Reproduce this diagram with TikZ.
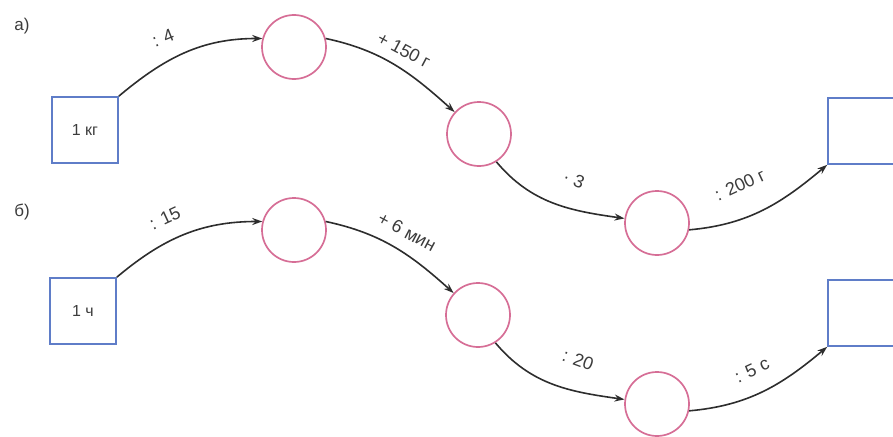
\documentclass[tikz,border=0pt]{standalone}
\usepackage{fontspec}
\setmainfont{Liberation Sans}
\usetikzlibrary{arrows.meta}
\definecolor{ringc}{RGB}{214,110,150}
\definecolor{boxc}{RGB}{95,125,200}
\definecolor{linec}{RGB}{45,45,45}
\definecolor{textc}{RGB}{60,60,60}
\begin{document}
\begin{tikzpicture}[x=1pt,y=-1pt,
  ring/.style={circle,draw=ringc,line width=1.7pt,minimum size=64pt,inner sep=0pt},
  valbox/.style={rectangle,draw=boxc,line width=1.7pt,minimum size=66pt,inner sep=0pt,font=\fontsize{16}{18}\selectfont,text=textc},
  conn/.style={draw=linec,line width=1.6pt,-{Stealth[length=10pt,width=7pt]}},
  lbl/.style={font=\fontsize{18}{20}\selectfont,text=textc,inner sep=1pt},
  part/.style={font=\fontsize{17}{19}\selectfont,text=textc}]
\useasboundingbox (0,0) rectangle (893,436);
% part a
\node[part] (pa) at (22,26) {а)};
\node[valbox] (a0) at (85,130) {1 кг};
\node[ring] (a1) at (294,47) {};
\node[ring] (a2) at (479,134) {};
\node[ring] (a3) at (657,223) {};
\node[valbox] (a4) at (861,131) {};
\draw[conn] (a0.north east) to[out=40,in=180] (a1.165);
\draw[conn] (a1.15) to[out=-12,in=138] (a2.138);
\draw[conn] (a2.-58) to[out=-50,in=172] (a3.172);
\draw[conn] (a3.-12) to[out=5,in=220] (a4.south west);
\node[lbl,rotate=22] (la1) at (163,38) {: 4};
\node[lbl,rotate=-28] (la2) at (404,50) {+ 150 г};
\node[lbl,rotate=-22] (la3) at (574,180) {· 3};
\node[lbl,rotate=25] (la4) at (740,185) {: 200 г};
% part b
\node[part] (pb) at (22,212) {б)};
\node[valbox] (b0) at (83,311) {1 ч};
\node[ring] (b1) at (294,230) {};
\node[ring] (b2) at (478,315) {};
\node[ring] (b3) at (657,404) {};
\node[valbox] (b4) at (861,313) {};
\draw[conn] (b0.north east) to[out=40,in=180] (b1.165);
\draw[conn] (b1.15) to[out=-12,in=138] (b2.138);
\draw[conn] (b2.-58) to[out=-50,in=172] (b3.172);
\draw[conn] (b3.-12) to[out=5,in=220] (b4.south west);
\node[lbl,rotate=25] (lb1) at (165,218) {: 15};
\node[lbl,rotate=-28] (lb2) at (407,232) {+ 6 мин};
\node[lbl,rotate=-20] (lb3) at (578,360) {: 20};
\node[lbl,rotate=25] (lb4) at (752,370) {: 5 с};
\end{tikzpicture}
\end{document}
